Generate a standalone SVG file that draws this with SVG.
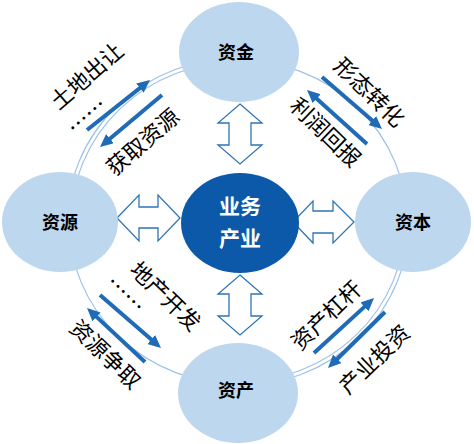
<svg xmlns="http://www.w3.org/2000/svg" width="474" height="444" viewBox="0 0 474 444">
<defs>
<style>
.ring{fill:none;stroke:#9cc1e8;stroke-width:1.2}
.node{fill:#bdd7ee}
.core{fill:#0b59a8}
.blk{fill:#fff;stroke:#2e75b6;stroke-width:1.3;stroke-linejoin:miter}
.arr{stroke:#1f6bb6;stroke-width:4;fill:none}
.nl{font-family:"Noto Sans CJK SC","Noto Sans",sans-serif;font-weight:bold;font-size:18px;fill:#000;text-anchor:middle}
.cl{font-family:"Noto Sans CJK SC","Noto Sans",sans-serif;font-weight:bold;font-size:21px;fill:#fff;text-anchor:middle}
.lb{font-family:"Noto Sans CJK SC","Noto Sans",sans-serif;font-size:22px;fill:#000;text-anchor:middle}
</style>
<marker id="ah" markerUnits="userSpaceOnUse" markerWidth="14" markerHeight="12" refX="4" refY="6" orient="auto">
<path d="M0,0 L13,6 L0,12 z" fill="#1f6bb6"/>
</marker>
</defs>
<rect width="474" height="444" fill="#fff"/>
<g id="connectors">
<path class="ring" d="M67,222 A171 164 0 0 1 238 58"/>
<path class="ring" d="M71,222 A167 160 0 0 1 238 62"/>
<path class="ring" d="M238,60 A169 162 0 0 1 407 222"/>
<path class="ring" d="M409,222 A171 164 0 0 1 238 386"/>
<path class="ring" d="M405,222 A167 160 0 0 1 238 382"/>
<path class="ring" d="M238,384 A169 162 0 0 1 69 222"/>
<line class="arr" x1="87" y1="130" x2="143" y2="85.6" marker-end="url(#ah)"/>
<line class="arr" x1="162" y1="95" x2="106.9" y2="141.2" marker-end="url(#ah)"/>
<line class="arr" x1="322" y1="77" x2="375.2" y2="123.1" marker-end="url(#ah)"/>
<line class="arr" x1="367" y1="144" x2="313.7" y2="96" marker-end="url(#ah)"/>
<line class="arr" x1="100" y1="295" x2="154.2" y2="342.1" marker-end="url(#ah)"/>
<line class="arr" x1="145" y1="362" x2="93.6" y2="314.1" marker-end="url(#ah)"/>
<line class="arr" x1="314" y1="353" x2="367.4" y2="304.1" marker-end="url(#ah)"/>
<line class="arr" x1="385" y1="312" x2="334.4" y2="361.7" marker-end="url(#ah)"/>
<polygon class="blk" points="240,104 262,123 251,123 251,145 262,145 240,164 218,145 229,145 229,123 218,123"/>
<polygon class="blk" points="240,275 262,294 251,294 251,316 262,316 240,335 218,316 229,316 229,294 218,294"/>
<polygon class="blk" points="117,218 139,195 139,207 158,207 158,195 180,218 158,241 158,228 139,228 139,241"/>
<polygon class="blk" points="293,222 313,201 313,211 333,211 333,201 354,222 333,243 333,233 313,233 313,243"/>
</g>
<g id="labels">
<text class="lb" transform="translate(92,82) rotate(-41)">土地出让</text>
<text class="lb" transform="translate(92,122) rotate(-41)">……</text>
<text class="lb" transform="translate(148,148) rotate(-41)">获取资源</text>
<text class="lb" transform="translate(364,98) rotate(44)">形态转化</text>
<text class="lb" transform="translate(320,138) rotate(44)">利润回报</text>
<text class="lb" transform="translate(160,302) rotate(44)">地产开发</text>
<text class="lb" transform="translate(120,300) rotate(44)">……</text>
<text class="lb" transform="translate(100,360) rotate(44)">资源争取</text>
<text class="lb" transform="translate(332,321) rotate(-44)">资产杠杆</text>
<text class="lb" transform="translate(380,365) rotate(-44)">产业投资</text>
</g>
<g id="node-zijin"><ellipse class="node" cx="239" cy="52" rx="60" ry="50"/><text class="nl" x="236" y="59">资金</text></g>
<g id="node-ziyuan"><ellipse class="node" cx="60" cy="222" rx="58" ry="50"/><text class="nl" x="60" y="229">资源</text></g>
<g id="node-ziben"><ellipse class="node" cx="413" cy="222" rx="58" ry="50"/><text class="nl" x="413" y="229">资本</text></g>
<g id="node-zichan"><ellipse class="node" cx="238" cy="393" rx="60" ry="50"/><text class="nl" x="236" y="397">资产</text></g>
<g id="node-core"><ellipse class="core" cx="240" cy="223" rx="59" ry="50"/><text class="cl" x="240" y="214">业务</text><text class="cl" x="240" y="246">产业</text></g>
</svg>
